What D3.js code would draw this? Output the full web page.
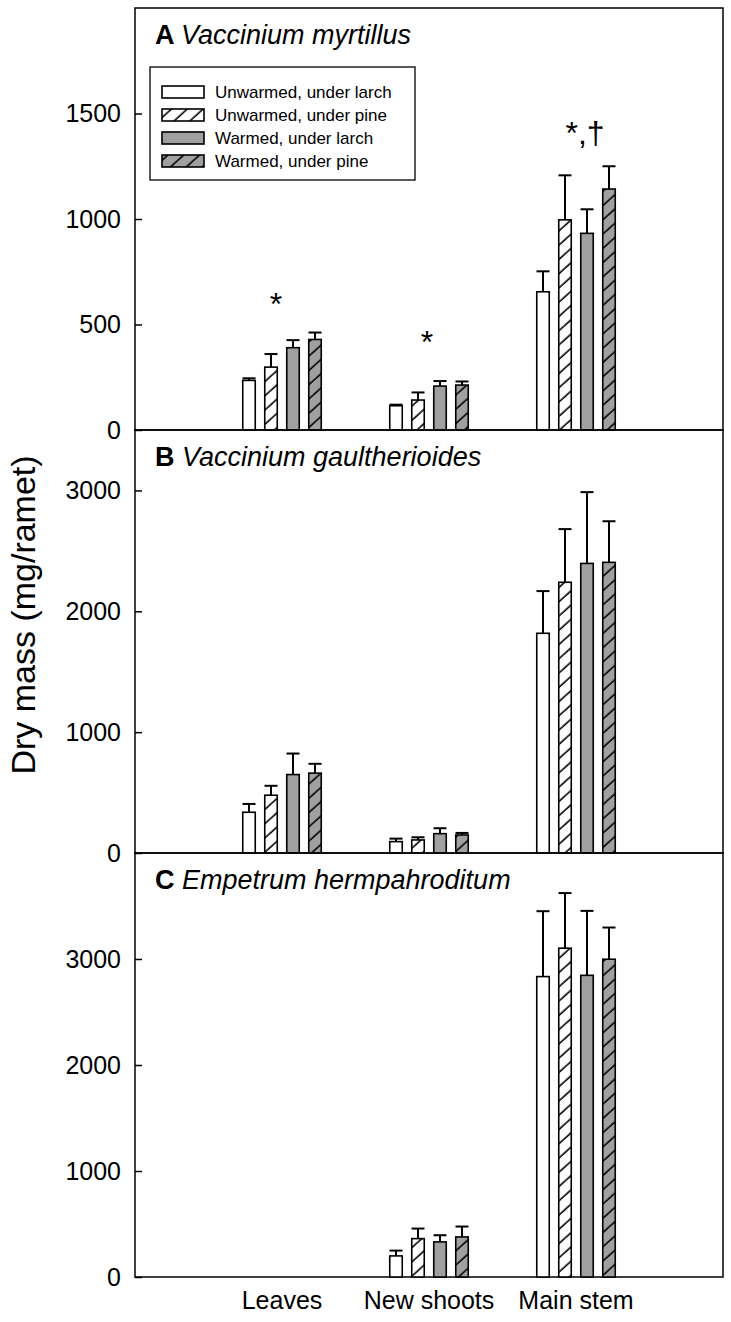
<!DOCTYPE html>
<html>
<head>
<meta charset="utf-8">
<script src="https://cdn.jsdelivr.net/npm/d3@7"></script>
<style>
  html, body { margin: 0; padding: 0; background: #fff; }
  svg { display: block; font-family: "Liberation Sans", Arial, sans-serif; }
</style>
</head>
<body>
<svg id="chart" width="731" height="1322"></svg>
<script>
// ---------------- DATA ----------------
const categories = ["Leaves", "New shoots", "Main stem"];
const treatments = ["Unwarmed, under larch", "Unwarmed, under pine", "Warmed, under larch", "Warmed, under pine"];
const treatmentFill = ["white", "hatchWhite", "gray", "hatchGray"];

const panelLetters = ["A", "B", "C"];
const panelSpecies = ["Vaccinium myrtillus", "Vaccinium gaultherioides", "Empetrum hermpahroditum"];
const panelMax = [2000, 3500, 4000];
const ticksA = [0, 500, 1000, 1500];
const ticksB = [0, 1000, 2000, 3000];
const ticksC = [0, 1000, 2000, 3000];

// means per category (rows) x treatment (cols)
const meansA = [[235, 298, 390, 429], [115, 142, 208, 213], [655, 996, 932, 1142]];
const errA   = [[10, 62, 36, 33],     [5, 36, 24, 17],      [97, 211, 114, 108]];
const meansB = [[337, 478, 649, 661], [94, 108, 160, 149],  [1818, 2240, 2396, 2405]];
const errB   = [[69, 78, 174, 77],    [25, 22, 45, 17],     [349, 440, 590, 340]];
const meansC = [[null, null, null, null], [199, 362, 331, 378], [2834, 3102, 2846, 2998]];
const errC   = [[null, null, null, null], [50, 95, 63, 98],     [617, 520, 608, 299]];

// significance annotations: panel index, category index, value (symbol centre), text
const annPanel = [0, 0, 0];
const annCat   = [0, 1, 2];
const annValue = [630, 450, 1440];
const annText  = ["*", "*", "*,\u2020"];
const annShift = [-6, -2, 9];

// ---------------- LAYOUT ----------------
const svg = d3.select("#chart");
const left = 135, right = 723;
const panelTops = [8, 430, 853];
const panelBottoms = [430, 853, 1277];
const panelTicks = [ticksA, ticksB, ticksC];
const panelMeans = [meansA, meansB, meansC];
const panelErr = [errA, errB, errC];

const x = d3.scaleLinear().domain([0, 4]).range([left, right]);
const xb = d3.scaleBand().domain(treatments).range([-44, 44]).paddingInner(8 / 22).paddingOuter(4 / 22);

const defs = svg.append("defs");
function hatch(id, bg) {
  const p = defs.append("pattern").attr("id", id).attr("patternUnits", "userSpaceOnUse")
    .attr("width", 10.6).attr("height", 10.6).attr("patternTransform", "rotate(-42)");
  p.append("rect").attr("width", 10.6).attr("height", 10.6).attr("fill", bg);
  p.append("line").attr("x1", -2).attr("x2", 13).attr("y1", 5).attr("y2", 5)
    .attr("stroke", "#000").attr("stroke-width", 1.6);
}
hatch("hatchWhite", "#fff");
hatch("hatchGray", "#a0a0a0");
const fillFor = f => f === "white" ? "#fff" : f === "gray" ? "#a0a0a0" : `url(#${f})`;

panelLetters.forEach((letter, pi) => {
  const y = d3.scaleLinear().domain([0, panelMax[pi]]).range([panelBottoms[pi], panelTops[pi]]);
  const g = svg.append("g");

  // frame
  g.append("rect").attr("x", left).attr("y", panelTops[pi])
    .attr("width", right - left).attr("height", panelBottoms[pi] - panelTops[pi])
    .attr("fill", "none").attr("stroke", "#000").attr("stroke-width", 1.5);

  // y axis
  const ax = g.append("g").attr("transform", `translate(${left},0)`)
    .call(d3.axisLeft(y).tickValues(panelTicks[pi]).tickSizeInner(-7).tickSizeOuter(0).tickPadding(14).tickFormat(d3.format("d")));
  ax.select(".domain").remove();
  ax.selectAll(".tick line").attr("stroke-width", 1.5);
  ax.selectAll(".tick text").attr("font-size", 25).attr("fill", "#000").attr("font-family", "Liberation Sans, Arial, sans-serif");

  // title
  const t = g.append("text").attr("x", 155).attr("y", panelTops[pi] + 36).attr("font-size", 27);
  t.append("tspan").attr("font-weight", "bold").text(letter + " ");
  t.append("tspan").attr("font-style", "italic").text(panelSpecies[pi]);

  // bars
  categories.forEach((cat, ci) => {
    treatments.forEach((tr, ti) => {
      const v = panelMeans[pi][ci][ti];
      if (v == null) return;
      const e = panelErr[pi][ci][ti];
      const cx = x(ci + 1) + xb(tr) + xb.bandwidth() / 2;
      const bw = xb.bandwidth() - 1.5;
      // error bar
      g.append("line").attr("x1", cx).attr("x2", cx).attr("y1", y(v)).attr("y2", y(v + e))
        .attr("stroke", "#000").attr("stroke-width", 2);
      g.append("line").attr("x1", cx - 6.5).attr("x2", cx + 6.5).attr("y1", y(v + e)).attr("y2", y(v + e))
        .attr("stroke", "#000").attr("stroke-width", 2);
      g.append("rect").attr("x", cx - bw / 2).attr("y", y(v)).attr("width", bw).attr("height", y(0) - y(v))
        .attr("fill", fillFor(treatmentFill[ti])).attr("stroke", "#000").attr("stroke-width", 1.6);
    });
  });

  // annotations
  annPanel.forEach((ap, ai) => {
    if (ap !== pi) return;
    g.append("text").attr("x", x(annCat[ai] + 1) + annShift[ai]).attr("y", y(annValue[ai]) + 18)
      .attr("text-anchor", "middle").attr("font-size", 32).text(annText[ai]);
  });
});

// x labels
svg.append("g").selectAll("text").data(categories).join("text")
  .attr("x", (d, i) => x(i + 1)).attr("y", 1309).attr("text-anchor", "middle")
  .attr("font-size", 25).text(d => d);

// y title
svg.append("text").attr("transform", "translate(35,615) rotate(-90)").attr("text-anchor", "middle")
  .attr("font-size", 34).text("Dry mass (mg/ramet)");

// legend
const lg = svg.append("g");
lg.append("rect").attr("x", 150).attr("y", 67).attr("width", 265).attr("height", 113)
  .attr("fill", "#fff").attr("stroke", "#000").attr("stroke-width", 1.3);
treatments.forEach((tr, i) => {
  const yy = 92 + i * 23;
  lg.append("rect").attr("x", 162).attr("y", yy - 6).attr("width", 42).attr("height", 12)
    .attr("fill", fillFor(treatmentFill[i])).attr("stroke", "#000").attr("stroke-width", 1.6);
  lg.append("text").attr("x", 215).attr("y", yy + 6).attr("font-size", 17).text(tr);
});
</script>
</body>
</html>
